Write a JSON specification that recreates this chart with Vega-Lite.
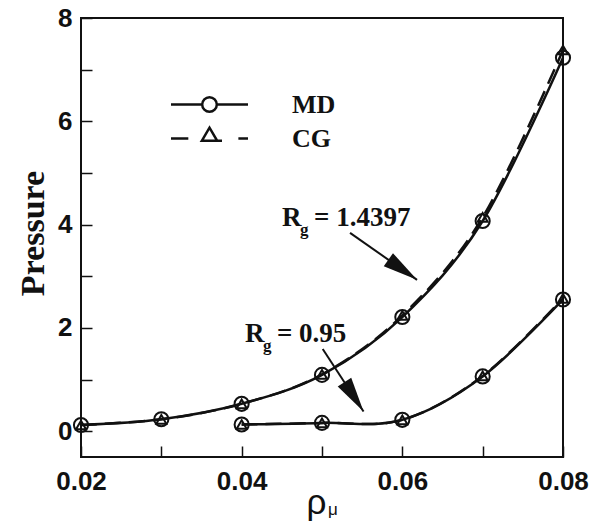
{
  "$schema": "https://vega.github.io/schema/vega-lite/v6.json",
  "width": 482,
  "height": 439,
  "autosize": {"type": "none"},
  "padding": {"left": 81, "top": 18, "right": 37, "bottom": 75},
  "background": "white",
  "config": {
    "view": {"stroke": "#111", "strokeWidth": 2},
    "axis": {
      "domain": false,
      "grid": false,
      "labelFont": "Liberation Sans",
      "labelFontWeight": "bold",
      "labelFontSize": 26,
      "labelColor": "#111",
      "tickColor": "#111",
      "tickWidth": 1.5,
      "tickSize": -11
    }
  },
  "datasets": {
    "curves": [
      {"rho": 0.02, "p": 0.12, "model": "MD", "Rg": "1.4397"},
      {"rho": 0.03, "p": 0.23, "model": "MD", "Rg": "1.4397"},
      {"rho": 0.04, "p": 0.53, "model": "MD", "Rg": "1.4397"},
      {"rho": 0.05, "p": 1.09, "model": "MD", "Rg": "1.4397"},
      {"rho": 0.06, "p": 2.21, "model": "MD", "Rg": "1.4397"},
      {"rho": 0.07, "p": 4.07, "model": "MD", "Rg": "1.4397"},
      {"rho": 0.08, "p": 7.23, "model": "MD", "Rg": "1.4397"},
      {"rho": 0.02, "p": 0.12, "model": "CG", "Rg": "1.4397"},
      {"rho": 0.03, "p": 0.23, "model": "CG", "Rg": "1.4397"},
      {"rho": 0.04, "p": 0.53, "model": "CG", "Rg": "1.4397"},
      {"rho": 0.05, "p": 1.1, "model": "CG", "Rg": "1.4397"},
      {"rho": 0.06, "p": 2.24, "model": "CG", "Rg": "1.4397"},
      {"rho": 0.07, "p": 4.14, "model": "CG", "Rg": "1.4397"},
      {"rho": 0.08, "p": 7.38, "model": "CG", "Rg": "1.4397"},
      {"rho": 0.04, "p": 0.13, "model": "MD", "Rg": "0.95"},
      {"rho": 0.05, "p": 0.16, "model": "MD", "Rg": "0.95"},
      {"rho": 0.06, "p": 0.22, "model": "MD", "Rg": "0.95"},
      {"rho": 0.07, "p": 1.06, "model": "MD", "Rg": "0.95"},
      {"rho": 0.08, "p": 2.55, "model": "MD", "Rg": "0.95"},
      {"rho": 0.04, "p": 0.13, "model": "CG", "Rg": "0.95"},
      {"rho": 0.05, "p": 0.16, "model": "CG", "Rg": "0.95"},
      {"rho": 0.06, "p": 0.22, "model": "CG", "Rg": "0.95"},
      {"rho": 0.07, "p": 1.07, "model": "CG", "Rg": "0.95"},
      {"rho": 0.08, "p": 2.57, "model": "CG", "Rg": "0.95"}
    ],
    "notes": [
      {"Rg": "1.4397", "x": 0.04502, "y": 3.97, "eq": "= 1.4397"},
      {"Rg": "0.95", "x": 0.04041, "y": 1.73, "eq": "= 0.95"}
    ],
    "arrows": [
      {"Rg": "1.4397", "x": 0.05349, "y": 3.84, "x2": 0.06183, "y2": 2.93},
      {"Rg": "0.95", "x": 0.05009, "y": 1.59, "x2": 0.05517, "y2": 0.38}
    ],
    "sub": [{"t": "μ"}]
  },
  "layer": [
    {
      "data": {"name": "curves"},
      "transform": [{"filter": "datum.model == 'MD'"}],
      "mark": {"type": "line", "interpolate": "cardinal", "strokeWidth": 2.5, "color": "#111"},
      "encoding": {
        "x": {
          "field": "rho", "type": "quantitative",
          "scale": {"domain": [0.02, 0.08], "nice": false, "zero": false},
          "axis": {
            "title": "ρ",
            "titleFont": "Liberation Sans",
            "titleFontWeight": "normal",
            "titleFontSize": 35,
            "titleColor": "#111",
            "titleX": 235,
            "titleY": 56,
            "titleAlign": "center",
            "titleBaseline": "alphabetic",
            "values": [0.02, 0.03, 0.04, 0.05, 0.06, 0.07, 0.08],
            "labelExpr": "indexof([0.03, 0.05, 0.07], datum.value) >= 0 ? '' : format(datum.value, '.2f')",
            "labelPadding": 22,
            "labelFlush": false,
            "labelOverlap": false,
            "encode": {
              "ticks": {
                "y2": {"condition": {"test": "indexof([0.03, 0.05, 0.07], datum.value) >= 0", "value": -6}, "value": -11}
              }
            }
          }
        },
        "y": {
          "field": "p", "type": "quantitative",
          "scale": {"domain": [-0.5, 8], "nice": false, "zero": false},
          "axis": {
            "title": "Pressure",
            "titleFont": "Liberation Serif",
            "titleFontWeight": "bold",
            "titleFontSize": 34,
            "titleColor": "#111",
            "titleX": -38,
            "titleY": 215,
            "titleAngle": -90,
            "titleAlign": "center",
            "titleBaseline": "alphabetic",
            "values": [0, 1, 2, 3, 4, 5, 6, 7, 8],
            "labelExpr": "datum.value % 2 == 1 ? '' : datum.label",
            "labelPadding": 20,
            "labelOverlap": false,
            "encode": {
              "ticks": {
                "x2": {"condition": {"test": "datum.value % 2 == 1", "value": 6}, "value": 11}
              }
            }
          }
        },
        "detail": {"field": "Rg"}
      }
    },
    {
      "data": {"name": "curves"},
      "transform": [{"filter": "datum.model == 'CG'"}],
      "mark": {"type": "line", "interpolate": "cardinal", "strokeWidth": 2.5, "color": "#111", "strokeDash": [16, 8]},
      "encoding": {
        "x": {"field": "rho", "type": "quantitative"},
        "y": {"field": "p", "type": "quantitative"},
        "detail": {"field": "Rg"}
      }
    },
    {
      "data": {"name": "curves"},
      "transform": [{"filter": "datum.model == 'MD'"}],
      "mark": {"type": "point", "shape": "circle", "size": 200, "filled": false, "strokeWidth": 2, "color": "#111", "opacity": 1},
      "encoding": {
        "x": {"field": "rho", "type": "quantitative"},
        "y": {"field": "p", "type": "quantitative"}
      }
    },
    {
      "data": {"name": "curves"},
      "transform": [{"filter": "datum.model == 'CG'"}],
      "mark": {"type": "point", "shape": "triangle-up", "size": 100, "filled": false, "strokeWidth": 2, "color": "#111", "opacity": 1},
      "encoding": {
        "x": {"field": "rho", "type": "quantitative"},
        "y": {"field": "p", "type": "quantitative"}
      }
    },
    {
      "data": {"name": "curves"},
      "mark": {"type": "point", "filled": false, "color": "#111", "opacity": 0},
      "encoding": {
        "x": {"field": "rho", "type": "quantitative"},
        "y": {"field": "p", "type": "quantitative"},
        "shape": {
          "field": "model", "type": "nominal",
          "scale": {
            "domain": ["MD", "CG"],
            "range": [
              "M-2,0H-0.38M0.38,0H2M0.38,0A0.38,0.38 0 1 1 -0.38,0A0.38,0.38 0 1 1 0.38,0",
              "M-2,0H-1.1M-0.4,0.12L0,-0.56L0.4,0.12ZM0.4,0.12H0.65M1.5,0H2"
            ]
          },
          "legend": {
            "title": null,
            "orient": "none",
            "legendX": 108,
            "legendY": 66,
            "padding": 0,
            "symbolSize": 1482,
            "symbolStrokeWidth": 2.5,
            "symbolStrokeColor": "#111",
            "symbolFillColor": "transparent",
            "symbolOpacity": 1,
            "labelFont": "Liberation Serif",
            "labelFontWeight": "bold",
            "labelFontSize": 26,
            "labelColor": "#111",
            "labelOffset": 62,
            "rowPadding": 0
          }
        }
      }
    },
    {
      "data": {"name": "arrows"},
      "mark": {"type": "rule", "strokeWidth": 2, "color": "#111"},
      "encoding": {
        "x": {"field": "x", "type": "quantitative"},
        "y": {"field": "y", "type": "quantitative"},
        "x2": {"field": "x2"},
        "y2": {"field": "y2"}
      }
    },
    {
      "data": {"name": "arrows"},
      "transform": [{"filter": "datum.Rg == '1.4397'"}],
      "mark": {"type": "point", "shape": "M0,0L0.23,1L-0.23,1Z", "size": 4900, "filled": true, "color": "#111", "opacity": 1, "strokeWidth": 0, "angle": 125},
      "encoding": {
        "x": {"field": "x2", "type": "quantitative"},
        "y": {"field": "y2", "type": "quantitative"}
      }
    },
    {
      "data": {"name": "arrows"},
      "transform": [{"filter": "datum.Rg == '0.95'"}],
      "mark": {"type": "point", "shape": "M0,0L0.23,1L-0.23,1Z", "size": 4900, "filled": true, "color": "#111", "opacity": 1, "strokeWidth": 0, "angle": 147},
      "encoding": {
        "x": {"field": "x2", "type": "quantitative"},
        "y": {"field": "y2", "type": "quantitative"}
      }
    },
    {
      "data": {"name": "notes"},
      "mark": {"type": "text", "text": "R", "font": "Liberation Serif", "fontWeight": "bold", "fontSize": 27, "align": "left", "baseline": "alphabetic", "color": "#111"},
      "encoding": {
        "x": {"field": "x", "type": "quantitative"},
        "y": {"field": "y", "type": "quantitative"}
      }
    },
    {
      "data": {"name": "notes"},
      "mark": {"type": "text", "text": "g", "font": "Liberation Serif", "fontWeight": "bold", "fontSize": 17, "align": "left", "baseline": "alphabetic", "dx": 18, "dy": 9, "color": "#111"},
      "encoding": {
        "x": {"field": "x", "type": "quantitative"},
        "y": {"field": "y", "type": "quantitative"}
      }
    },
    {
      "data": {"name": "notes"},
      "mark": {"type": "text", "font": "Liberation Serif", "fontWeight": "bold", "fontSize": 27, "align": "left", "baseline": "alphabetic", "dx": 32, "color": "#111"},
      "encoding": {
        "x": {"field": "x", "type": "quantitative"},
        "y": {"field": "y", "type": "quantitative"},
        "text": {"field": "eq"}
      }
    },
    {
      "data": {"name": "sub"},
      "mark": {"type": "text", "font": "Liberation Sans", "fontSize": 17, "align": "left", "baseline": "alphabetic", "dx": 6, "dy": 58, "color": "#111", "clip": false},
      "encoding": {
        "x": {"datum": 0.05, "type": "quantitative"},
        "y": {"datum": -0.5, "type": "quantitative"},
        "text": {"field": "t"}
      }
    }
  ]
}
